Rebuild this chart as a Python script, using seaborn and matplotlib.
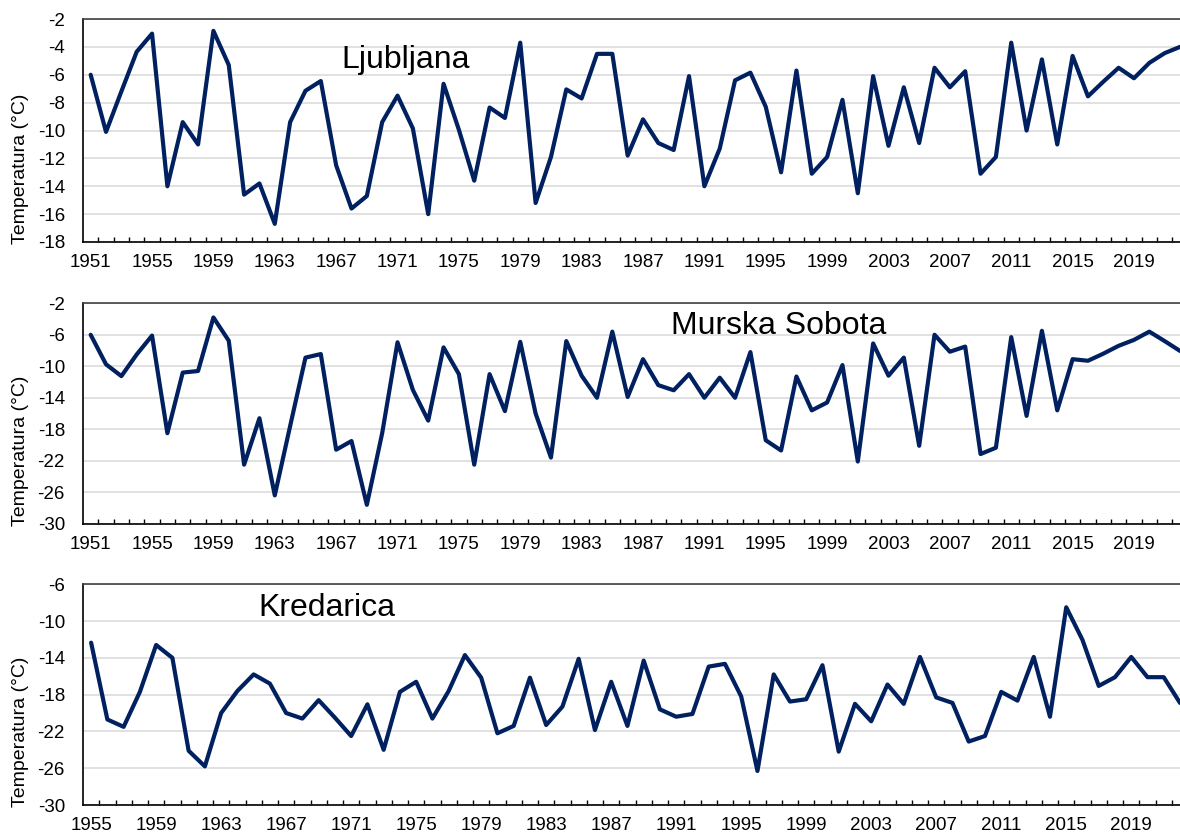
import numpy as np
import pandas as pd
import matplotlib
matplotlib.use("Agg")
import matplotlib.pyplot as plt
import seaborn as sns

# Annual minimum temperatures (°C) per station
years_ljubljana = list(range(1951, 2023))
ljubljana = [-6.0, -10.1, -7.2, -4.35, -3.05, -14.0, -9.4, -11.0, -2.85, -5.3,
             -14.6, -13.8, -16.7, -9.4, -7.15, -6.45, -12.5, -15.6, -14.7, -9.4,
             -7.5, -9.85, -16.0, -6.65, -9.95, -13.6, -8.35, -9.1, -3.7, -15.2,
             -11.9, -7.05, -7.7, -4.5, -4.5, -11.8, -9.2, -10.9, -11.4, -6.1,
             -14.0, -11.3, -6.4, -5.85, -8.3, -13.0, -5.7, -13.1, -11.9, -7.8,
             -14.5, -6.1, -11.1, -6.9, -10.9, -5.5, -6.9, -5.75, -13.1, -11.9,
             -3.7, -10.0, -4.9, -11.0, -4.65, -7.55, -6.5, -5.5, -6.25, -5.15,
             -4.45, -4.0]

years_murska = list(range(1951, 2023))
murska_sobota = [-6.0, -9.75, -11.25, -8.5, -6.1, -18.5, -10.8, -10.6, -3.8, -6.75,
                 -22.5, -16.6, -26.4, -17.6, -8.9, -8.45, -20.6, -19.5, -27.6, -18.5,
                 -6.95, -13.0, -16.9, -7.6, -11.0, -22.5, -11.0, -15.7, -6.9, -16.0,
                 -21.6, -6.8, -11.2, -14.0, -5.6, -13.9, -9.1, -12.4, -13.05, -11.0,
                 -14.0, -11.45, -14.0, -8.2, -19.4, -20.7, -11.3, -15.6, -14.6, -9.85,
                 -22.1, -7.1, -11.2, -8.9, -20.1, -6.0, -8.15, -7.5, -21.15, -20.35,
                 -6.3, -16.3, -5.5, -15.6, -9.1, -9.3, -8.4, -7.4, -6.65, -5.6,
                 -6.8, -8.05]

years_kredarica = list(range(1955, 2023))
kredarica = [-12.35, -20.7, -21.5, -17.7, -12.6, -14.0, -24.1, -25.8, -20.0, -17.6,
             -15.8, -16.8, -20.0, -20.6, -18.6, -20.5, -22.5, -19.05, -24.0, -17.7,
             -16.6, -20.6, -17.6, -13.7, -16.15, -22.2, -21.4, -16.15, -21.3, -19.3,
             -14.1, -21.85, -16.6, -21.4, -14.3, -19.6, -20.4, -20.1, -14.95, -14.65,
             -18.2, -26.3, -15.8, -18.75, -18.5, -14.8, -24.2, -19.0, -20.9, -16.9,
             -19.0, -13.9, -18.3, -18.9, -23.1, -22.5, -17.7, -18.65, -13.9, -20.4,
             -8.5, -12.05, -17.05, -16.1, -13.9, -16.1, -16.1, -18.9]

stations = ["Ljubljana", "Murska Sobota", "Kredarica"]
y_ranges = [(-18, -2), (-30, -2), (-30, -6)]
y_steps = [2, 4, 4]

sns.set_style("white")
plt.rcParams['font.family'] = ['Liberation Sans', 'DejaVu Sans']
plt.rcParams['axes.unicode_minus'] = False

NAVY = "#002060"
W, H = 1180, 836
fig = plt.figure(figsize=(W / 100, H / 100), dpi=100)


def axes_px(left, top, right, bottom):
    return fig.add_axes([left / W, 1 - bottom / H, (right - left) / W, (bottom - top) / H])


frames = [
    pd.DataFrame({"Leto": years_ljubljana, "Temperatura": ljubljana}),
    pd.DataFrame({"Leto": years_murska, "Temperatura": murska_sobota}),
    pd.DataFrame({"Leto": years_kredarica, "Temperatura": kredarica}),
]
boxes = [(83, 19, 1180, 242), (83, 303.3, 1180, 523.7), (83, 584.3, 1180, 805)]
name_pos = [(0.294, 0.779), (0.634, 0.859), (0.2224, 0.856)]

for df, name, (y0, y1), step, box, (tx, ty) in zip(frames, stations, y_ranges,
                                                    y_steps, boxes, name_pos):
    ax = axes_px(*box)
    sns.lineplot(data=df, x="Leto", y="Temperatura", ax=ax, color=NAVY,
                 linewidth=3.0)
    first = int(df["Leto"].min())
    ax.set_xlim(first - 0.5, 2022)
    ax.set_ylim(y0, y1)
    ax.set_yticks(np.arange(y0, y1 + 0.1, step))
    ax.set_xticks(np.arange(first, 2020, 4))
    ax.set_xticks(np.arange(first + 0.5, 2022, 1), minor=True)
    ax.grid(axis="y", color="#d9d9d9", linewidth=1.1)
    ax.grid(axis="x", visible=False)
    ax.set_axisbelow(True)

    for side in ("left", "bottom"):
        ax.spines[side].set_color("black")
        ax.spines[side].set_linewidth(1.2)
    ax.spines["top"].set_color("#404040")
    ax.spines["top"].set_linewidth(1.2)
    ax.spines["right"].set_visible(False)

    ax.tick_params(axis="y", length=0, pad=13, labelsize=13.5, colors="black")
    ax.tick_params(axis="x", which="major", length=0, pad=8.5, labelsize=13.5,
                   colors="black")
    ax.tick_params(axis="x", which="minor", direction="in", length=3.8,
                   width=1.0, color="black", bottom=True, top=False)

    ax.set_xlabel("")
    ax.set_ylabel("Temperatura (°C)", fontsize=14, color="black")
    ax.yaxis.set_label_coords((29 - 83) / 1097, 0.33)

    ax.text(tx, ty, name, transform=ax.transAxes, fontsize=23, ha="center",
            va="baseline", color="black")

fig.savefig("out.png", dpi=100)
